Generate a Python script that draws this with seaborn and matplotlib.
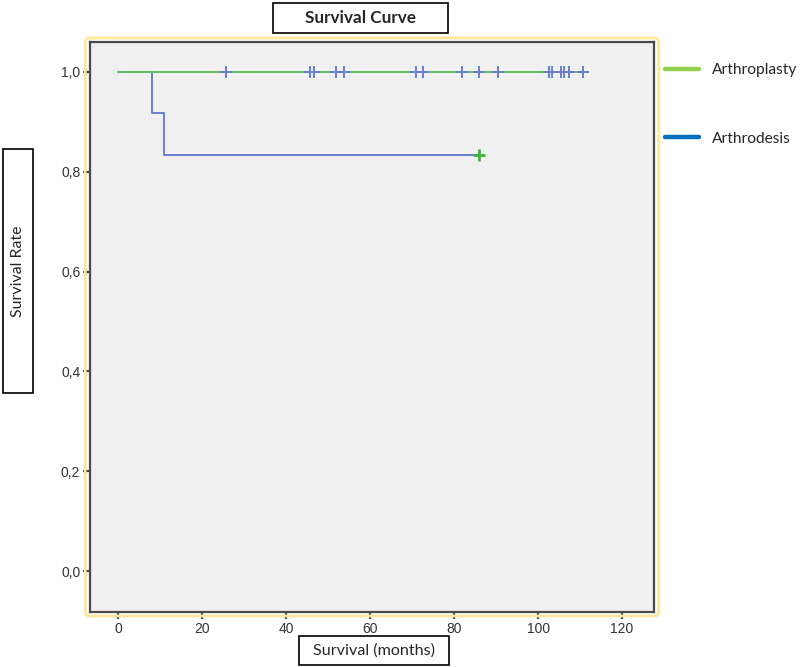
import pandas as pd
import matplotlib.pyplot as plt
import seaborn as sns
from matplotlib.patches import Rectangle, FancyBboxPatch
from matplotlib.lines import Line2D

# Kaplan-Meier steps
arthroplasty_time = [0, 110.7]
arthroplasty_surv = [1.0, 1.0]
arthroplasty_censor = [25.7, 45.7, 46.7, 51.9, 53.8, 71.0, 72.6, 81.9, 86.0, 90.5,
                       102.6, 103.3, 105.5, 106.2, 107.4, 110.7]

arthrodesis_time = [0, 8, 11, 86]
arthrodesis_surv = [1.0, 0.917, 0.833, 0.833]
arthrodesis_censor = [86]
arthrodesis_censor_surv = [0.833]

groups = ["Arthroplasty", "Arthrodesis"]
legend_colors = ["#92d050", "#0070c0"]
x_ticks = [0, 20, 40, 60, 80, 100, 120]
y_ticks = [0.0, 0.2, 0.4, 0.6, 0.8, 1.0]

sns.set_style("white")
plt.rcParams["font.family"] = ["Liberation Sans", "DejaVu Sans"]

df_a = pd.DataFrame({"time": arthroplasty_time, "surv": arthroplasty_surv})
df_b = pd.DataFrame({"time": arthrodesis_time, "surv": arthrodesis_surv})

fig = plt.figure(figsize=(8, 6.67), dpi=100)
ax = fig.add_axes([0.1125, 0.0825, 0.705, 0.8545])
ax.set_facecolor("#f0f0f0")

# Arthrodesis (blue) first so green sits on top at 1.0
sns.lineplot(data=df_b, x="time", y="surv", drawstyle="steps-post",
             estimator=None, sort=False, color="#6a7fcf", linewidth=1.4, ax=ax)
sns.lineplot(data=df_a, x="time", y="surv", drawstyle="steps-post",
             estimator=None, sort=False, color="#5cbf5c", linewidth=1.4, ax=ax)

sns.scatterplot(x=arthroplasty_censor, y=[1.0] * len(arthroplasty_censor),
                marker="+", s=80, linewidth=1.4, color="#6a7fcf", ax=ax, zorder=5)
sns.scatterplot(x=arthrodesis_censor, y=arthrodesis_censor_surv,
                marker="+", s=80, linewidth=2, color="#3cb43c", ax=ax, zorder=5)

ax.set_xlim(-6.7, 127.6)
ax.set_ylim(-0.082, 1.06)
ax.set_xticks(x_ticks)
ax.set_yticks(y_ticks)
ax.set_yticklabels([f"{v:.1f}".replace(".", ",") for v in y_ticks])
ax.tick_params(axis="both", direction="out", length=5, width=1.6, color="#444444",
               labelsize=10, labelcolor="#333333", pad=2,
               bottom=True, left=True)
ax.set_xlabel("")
ax.set_ylabel("")
for s in ax.spines.values():
    s.set_color("#4a4a4a")
    s.set_linewidth(1.6)

# yellow outer frame
fig.patches.append(FancyBboxPatch((0.1065, 0.0765), 0.717, 0.8665,
                                  boxstyle="round,pad=0,rounding_size=0.006",
                                  transform=fig.transFigure, fill=False,
                                  edgecolor="#ffe699", linewidth=2.0, zorder=0))

# boxed title and axis labels
def boxed(x0, y0, w, h, text, rot=0, bold=False, size=11):
    fig.patches.append(Rectangle((x0, y0), w, h, transform=fig.transFigure,
                                 facecolor="white", edgecolor="black", linewidth=1.2))
    fig.text(x0 + w / 2, y0 + h / 2, text, ha="center", va="center", rotation=rot,
             fontsize=size, fontweight="bold" if bold else "normal",
             family=["Lato", "DejaVu Sans"])

boxed(0.341, 0.9505, 0.219, 0.045, "Survival Curve", bold=True, size=12.3)
boxed(0.00375, 0.4108, 0.0375, 0.3658, "Survival Rate", rot=90, size=11.4)
boxed(0.374, 0.003, 0.1875, 0.0435, "Survival (months)", size=11.6)

# legend
handles = [Line2D([], [], color=c, linewidth=3.2) for c in legend_colors]
fig.legend(handles, groups, loc="upper left", bbox_to_anchor=(0.831, 0.905),
           frameon=False, handlelength=2.2, handletextpad=0.83, labelspacing=3.5,
           borderpad=0, borderaxespad=0,
           prop={"family": ["Lato", "DejaVu Sans"], "size": 11.2})

plt.savefig("out.png", dpi=100)
